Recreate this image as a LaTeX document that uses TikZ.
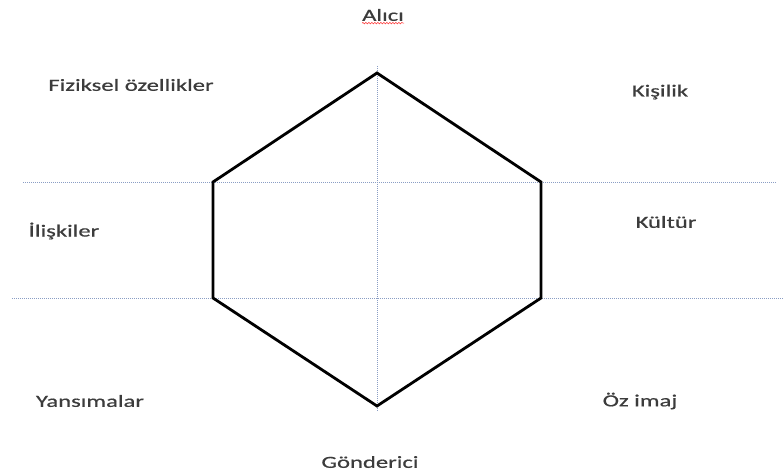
\documentclass[tikz,border=0pt]{standalone}
\usepackage{fontspec}
\setmainfont[FakeStretch=1.45,FakeBold=0.6]{Carlito}
\usetikzlibrary{decorations.pathmorphing}
\definecolor{guide}{HTML}{8A9DC4}
\definecolor{txt}{HTML}{3C3C3C}
\tikzset{
  guideline/.style={guide, line width=1pt, densely dotted},
  hexline/.style={black, line width=2.8pt, line join=miter},
  lbl/.style={font=\fontsize{17}{19}\selectfont, text=txt, inner sep=0pt}
}
\begin{document}
\begin{tikzpicture}[x=1pt,y=-1pt]
\useasboundingbox (0,0) rectangle (784,471);
% guides
\coordinate (hl1) at (23,182); \coordinate (hr1) at (777,182);
\coordinate (hl2) at (12,298); \coordinate (hr2) at (784,298);
\coordinate (vt) at (377,66); \coordinate (vb) at (377,412);
\draw[guideline] (hl1) -- (hr1);
\draw[guideline] (hl2) -- (hr2);
\draw[guideline] (vt) -- (vb);
% hexagon
\coordinate (t) at (377,73);
\coordinate (ur) at (541,182);
\coordinate (lr) at (541,298);
\coordinate (b) at (377,406);
\coordinate (ll) at (213,298);
\coordinate (ul) at (213,182);
\draw[hexline] (t) -- (ur) -- (lr) -- (b) -- (ll) -- (ul) -- cycle;
% labels
\node[lbl] (alici) at (383,15) {Alıcı};
\draw[red!80, line width=0.5pt, decorate, decoration={snake, amplitude=0.8pt, segment length=3pt}] ([yshift=-2pt]alici.south west) -- ([yshift=-2pt]alici.south east);
\node[lbl] (fiz) at (131,85) {Fiziksel özellikler};
\node[lbl] (kis) at (660,92) {Kişilik};
\node[lbl] (ili) at (64,231) {İlişkiler};
\node[lbl] (kul) at (666,222) {Kültür};
\node[lbl] (yan) at (90,401) {Yansımalar};
\node[lbl] (oz) at (640,401) {Öz imaj};
\node[lbl] (gon) at (370,462) {Gönderici};
\end{tikzpicture}
\end{document}
